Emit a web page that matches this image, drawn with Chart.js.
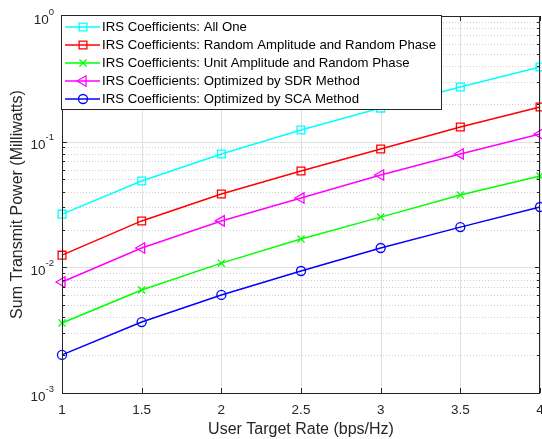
<!DOCTYPE html>
<html>
<head>
<meta charset="utf-8">
<script src="https://cdn.jsdelivr.net/npm/chart.js@4.4.1/dist/chart.umd.min.js"></script>
<style>
    html, body { margin: 0; padding: 0; background: #fff; overflow: hidden; }
    #powerChart { display: block; width: 542px; height: 439px; }
</style>
</head>
<body>
<canvas id="powerChart" width="542" height="439"></canvas>
<script>
// data
const rates = [1, 1.5, 2, 2.5, 3, 3.5, 4];
const allOne = [0.0265, 0.0487, 0.0798, 0.124, 0.185, 0.272, 0.393];
const randAmpPhase = [0.0125, 0.0234, 0.0383, 0.0584, 0.0874, 0.131, 0.189];
const sdrMethod = [0.00764, 0.01425, 0.0234, 0.0356, 0.0543, 0.0798, 0.115];
const unitAmpPhase = [0.00361, 0.0066, 0.0108, 0.0168, 0.0251, 0.0376, 0.0533];
const scaMethod = [0.00201, 0.00367, 0.00603, 0.00935, 0.01425, 0.0209, 0.0302];

const xTicks = [1, 1.5, 2, 2.5, 3, 3.5, 4];
const xTickLabels = ['1', '1.5', '2', '2.5', '3', '3.5', '4'];
const yDecades = [-3, -2, -1, 0];

const FONT = '"Liberation Sans", Arial, Helvetica, sans-serif';
const AXIS = '#262626';

function toPoints(vals) {
    return rates.map((r, i) => ({ x: r, y: vals[i] }));
}

function series(label, vals, color, style, radius, rotation) {
    return {
        label: label,
        data: toPoints(vals),
        borderColor: color,
        backgroundColor: color,
        borderWidth: 1.5,
        pointStyle: style,
        pointRadius: radius,
        pointRotation: rotation || 0,
        pointBorderColor: color,
        pointBackgroundColor: 'rgba(0,0,0,0)',
        pointBorderWidth: 1.3,
        tension: 0,
        clip: false
    };
}

// own marker drawing for the legend box
function drawMarker(ctx, style, x, y, r, rotation, color) {
    ctx.save();
    ctx.strokeStyle = color;
    ctx.lineWidth = 1.3;
    ctx.beginPath();
    if (style === 'rect') {
        const s = r * Math.SQRT1_2;
        ctx.rect(x - s, y - s, 2 * s, 2 * s);
    } else if (style === 'circle') {
        ctx.arc(x, y, r, 0, Math.PI * 2);
    } else if (style === 'crossRot') {
        const d = r * Math.SQRT1_2;
        ctx.moveTo(x - d, y - d); ctx.lineTo(x + d, y + d);
        ctx.moveTo(x - d, y + d); ctx.lineTo(x + d, y - d);
    } else if (style === 'triangle') {
        let rad = rotation * Math.PI / 180;
        for (let k = 0; k < 3; k++) {
            const px = x + Math.sin(rad) * r;
            const py = y - Math.cos(rad) * r;
            if (k === 0) ctx.moveTo(px, py); else ctx.lineTo(px, py);
            rad += Math.PI * 2 / 3;
        }
        ctx.closePath();
    }
    ctx.stroke();
    ctx.restore();
}

const matlabAxes = {
    id: 'matlabAxes',
    beforeDatasetsDraw(chart) {
        const { ctx, chartArea: a, scales: { x, y } } = chart;
        ctx.save();
        ctx.lineWidth = 1;
        // x grid
        ctx.strokeStyle = '#e0e0e0';
        xTicks.forEach(v => {
            const px = Math.round(x.getPixelForValue(v)) + 0.5;
            ctx.beginPath(); ctx.moveTo(px, a.top); ctx.lineTo(px, a.bottom); ctx.stroke();
        });
        // y minor grid (dotted)
        ctx.strokeStyle = '#cfcfcf';
        ctx.setLineDash([1, 2]);
        for (let d = -3; d < 0; d++) {
            for (let m = 2; m <= 9; m++) {
                const py = Math.round(y.getPixelForValue(m * Math.pow(10, d))) + 0.5;
                ctx.beginPath(); ctx.moveTo(a.left, py); ctx.lineTo(a.right, py); ctx.stroke();
            }
        }
        ctx.setLineDash([]);
        // y major grid
        ctx.strokeStyle = '#e0e0e0';
        yDecades.forEach(d => {
            const py = Math.round(y.getPixelForValue(Math.pow(10, d))) + 0.5;
            ctx.beginPath(); ctx.moveTo(a.left, py); ctx.lineTo(a.right, py); ctx.stroke();
        });
        ctx.restore();
    },
    afterDatasetsDraw(chart) {
        const { ctx, chartArea: a, scales: { x, y } } = chart;
        ctx.save();
        // axes box
        ctx.strokeStyle = AXIS;
        ctx.lineWidth = 1;
        ctx.strokeRect(Math.round(a.left) + 0.5, Math.round(a.top) + 0.5,
            Math.round(a.right - a.left) - 1, Math.round(a.bottom - a.top));

        // tick marks
        ctx.beginPath();
        xTicks.forEach(v => {
            const px = Math.round(x.getPixelForValue(v)) + 0.5;
            ctx.moveTo(px, a.bottom); ctx.lineTo(px, a.bottom - 5);
            ctx.moveTo(px, a.top); ctx.lineTo(px, a.top + 5);
        });
        for (let d = -3; d <= 0; d++) {
            for (let m = 1; m <= (d < 0 ? 9 : 1); m++) {
                const py = Math.round(y.getPixelForValue(m * Math.pow(10, d))) + 0.5;
                const len = m === 1 ? 5 : 3;
                ctx.moveTo(a.left, py); ctx.lineTo(a.left + len, py);
                ctx.moveTo(a.right, py); ctx.lineTo(a.right - len, py);
            }
        }
        ctx.stroke();

        // x tick labels
        ctx.fillStyle = AXIS;
        ctx.font = '13.5px ' + FONT;
        ctx.textAlign = 'center';
        ctx.textBaseline = 'middle';
        xTicks.forEach((v, i) => {
            ctx.fillText(xTickLabels[i], x.getPixelForValue(v), a.bottom + 17);
        });

        // y tick labels: 10 with superscript exponent
        yDecades.forEach(d => {
            const py = y.getPixelForValue(Math.pow(10, d));
            const exp = d === 0 ? '0' : '-' + Math.abs(d);
            ctx.font = '9.5px ' + FONT;
            const ew = ctx.measureText(exp).width;
            ctx.textAlign = 'left';
            ctx.fillText(exp, 54 - ew, py - 4);
            ctx.font = '13.5px ' + FONT;
            ctx.textAlign = 'right';
            ctx.fillText('10', 54 - ew, py + 4);
        });

        // legend
        const lx = 61.5, ly = 15.5, lw = 380, lh = 94;
        ctx.fillStyle = '#ffffff';
        ctx.fillRect(lx, ly, lw, lh);
        ctx.strokeStyle = AXIS;
        ctx.strokeRect(lx, ly, lw, lh);
        ctx.font = '13.2px ' + FONT;
        ctx.textAlign = 'left';
        ctx.textBaseline = 'middle';
        chart.data.datasets.forEach((ds, i) => {
            const cy = 27 + 18 * i;
            ctx.strokeStyle = ds.borderColor;
            ctx.lineWidth = 1.5;
            ctx.beginPath(); ctx.moveTo(65, cy); ctx.lineTo(100, cy); ctx.stroke();
            drawMarker(ctx, ds.pointStyle, 83, cy, ds.pointRadius, ds.pointRotation, ds.borderColor);
            ctx.fillStyle = '#000000';
            ctx.fillText(ds.label, 102, cy + 0.5);
        });
        ctx.restore();
    }
};

const chart = new Chart(document.getElementById('powerChart'), {
    type: 'line',
    data: {
        datasets: [
            series('IRS Coefficients: All One', allOne, '#00ffff', 'rect', 5.5),
            series('IRS Coefficients: Random Amplitude and Random Phase', randAmpPhase, '#ff0000', 'rect', 5.5),
            series('IRS Coefficients: Unit Amplitude and Random Phase', unitAmpPhase, '#00ff00', 'crossRot', 5),
            series('IRS Coefficients: Optimized by SDR Method', sdrMethod, '#ff00ff', 'triangle', 6, -90),
            series('IRS Coefficients: Optimized by SCA Method', scaMethod, '#0000ff', 'circle', 4.5)
        ]
    },
    options: {
        responsive: false,
        animation: false,
        devicePixelRatio: 1,
        layout: { autoPadding: false, padding: { top: 16, right: 2, left: 0, bottom: 0 } },
        plugins: {
            legend: { display: false },
            tooltip: { enabled: false }
        },
        scales: {
            x: {
                type: 'linear',
                min: 1,
                max: 4,
                ticks: { display: false, stepSize: 0.5 },
                grid: { display: false },
                border: { display: false },
                title: {
                    display: true,
                    text: 'User Target Rate (bps/Hz)',
                    color: AXIS,
                    font: { family: FONT, size: 16 },
                    padding: { top: 0, bottom: 0 }
                },
                afterFit(scale) {
                    scale.height = 46;
                    scale.paddingLeft = 0;
                    scale.paddingRight = 0;
                }
            },
            y: {
                type: 'logarithmic',
                min: 0.001,
                max: 1,
                ticks: { display: false },
                grid: { display: false },
                border: { display: false },
                title: {
                    display: true,
                    text: 'Sum Transmit Power (Milliwatts)',
                    color: AXIS,
                    font: { family: FONT, size: 16 },
                    padding: { top: 8, bottom: 0 }
                },
                afterFit(scale) {
                    scale.width = 62;
                    scale.paddingTop = 0;
                    scale.paddingBottom = 0;
                }
            }
        }
    },
    plugins: [matlabAxes]
});
</script>
</body>
</html>
